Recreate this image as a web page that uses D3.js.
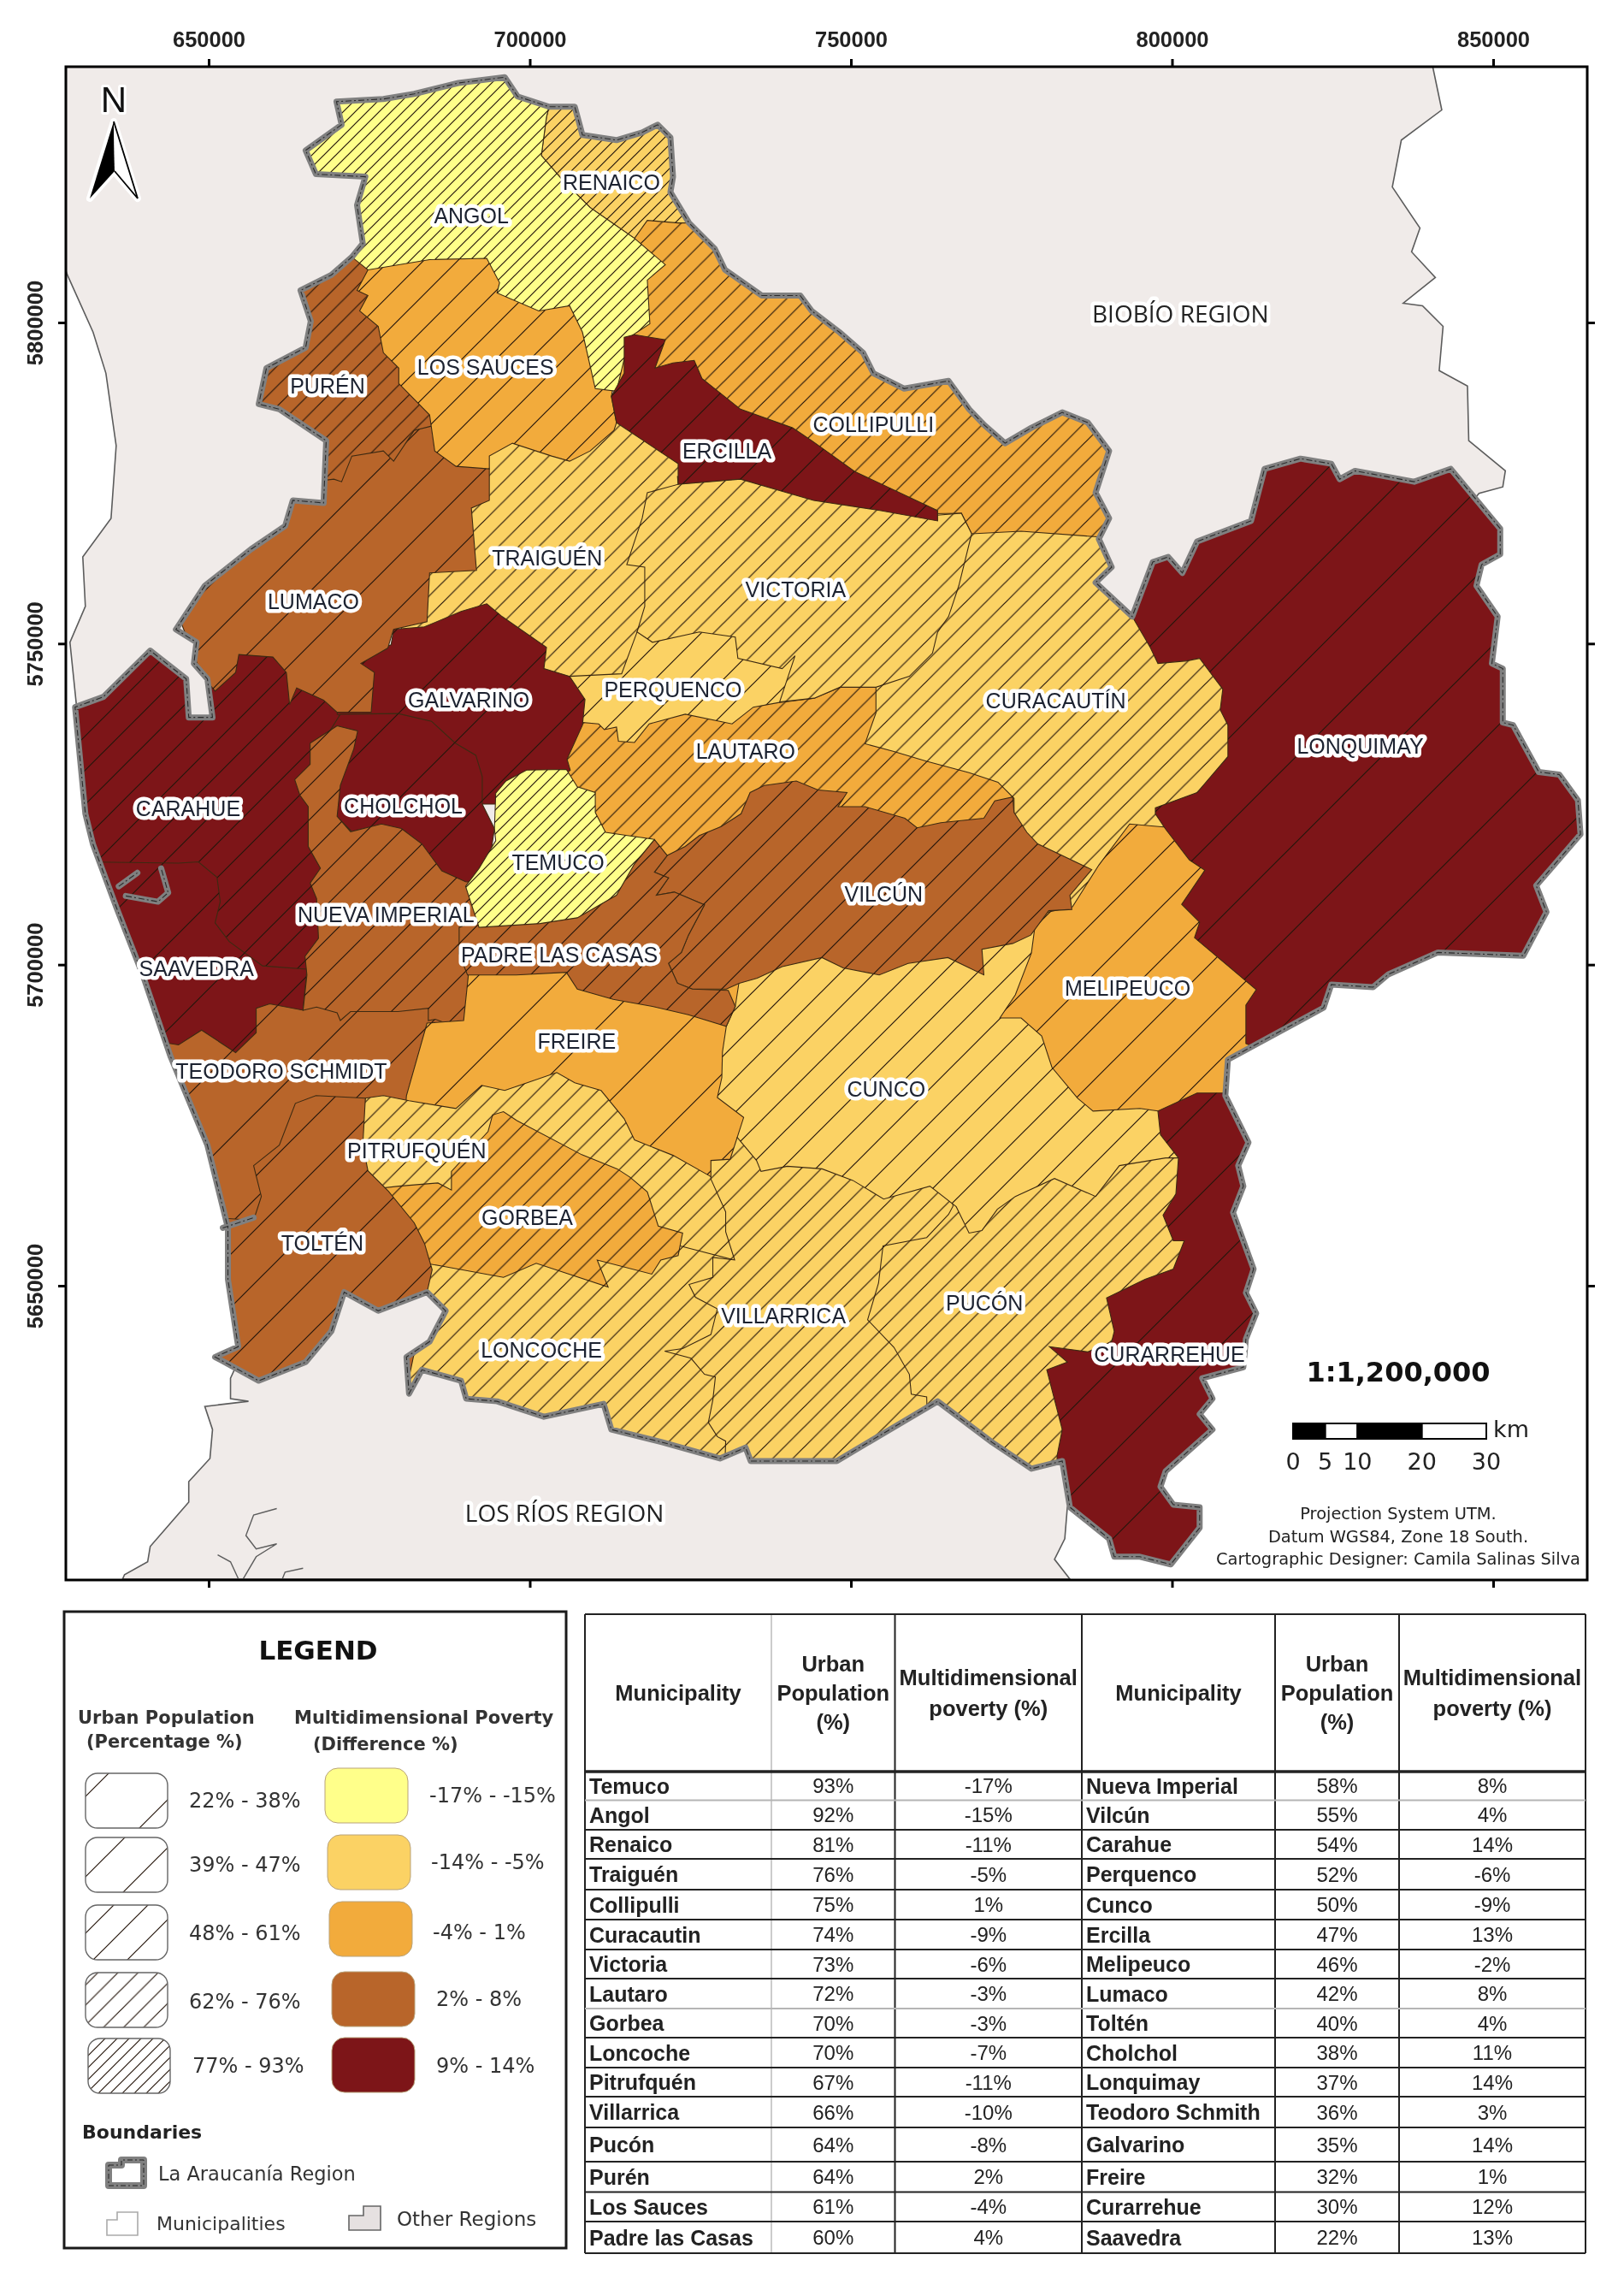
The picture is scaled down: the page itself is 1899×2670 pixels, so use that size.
<!DOCTYPE html>
<html><head><meta charset="utf-8">
<script src="https://cdn.jsdelivr.net/npm/d3@7"></script>
<style>html,body{margin:0;background:#fff}svg{display:block;filter:blur(0.5px)}</style>
</head><body><svg id="c" width="1899" height="2670"></svg>
<script>
// ---------- table data ----------
const namesLeft=["Temuco","Angol","Renaico","Traiguén","Collipulli","Curacautin","Victoria","Lautaro","Gorbea","Loncoche","Pitrufquén","Villarrica","Pucón","Purén","Los Sauces","Padre las Casas"];
const urbanLeft=[93,92,81,76,75,74,73,72,70,70,67,66,64,64,61,60];
const povertyLeft=[-17,-15,-11,-5,1,-9,-6,-3,-3,-7,-11,-10,-8,2,-4,4];
const namesRight=["Nueva Imperial","Vilcún","Carahue","Perquenco","Cunco","Ercilla","Melipeuco","Lumaco","Toltén","Cholchol","Lonquimay","Teodoro Schmith","Galvarino","Freire","Curarrehue","Saavedra"];
const urbanRight=[58,55,54,52,50,47,46,42,40,38,37,36,35,32,30,22];
const povertyRight=[8,4,14,-6,-9,13,-2,8,4,11,14,3,14,1,12,13];
// ---------- axis + legend data ----------
const xTicks=[650000,700000,750000,800000,850000];
const yTicks=[5800000,5750000,5700000,5650000];
const urbanClassLabels=["22% - 38%","39% - 47%","48% - 61%","62% - 76%","77% - 93%"];
const povertyClassLabels=["-17% - -15%","-14% - -5%","-4% - 1%","2% - 8%","9% - 14%"];
const urbanBreaks=[39,48,62,77];
const povertyBreaks=[-14,-4,2,9];
const scaleBarKm=[0,5,10,20,30];
// ---------- map geometry: UTM zone 18S, easting / northing in km ----------
const regionRing=[[665.1,5826.8],[670.7,5830.8],[669.9,5834.4],[677.2,5834.8],[682,5835.6],[688.9,5837.3],[696.1,5838.2],[698.1,5835.2],[703,5833.6],[707,5833.6],[708.2,5829.2],[713.5,5828.4],[717.5,5829.6],[719.9,5830.8],[721.9,5828.8],[722.3,5822.7],[721.9,5820.3],[724.8,5815.5],[728.8,5811.5],[730.4,5808.2],[736.1,5804.2],[742.1,5804.2],[743.9,5801.8],[748.2,5798.5],[751.9,5795.3],[753.5,5792.1],[758.3,5789.7],[765.2,5790.9],[768.4,5786.5],[770.8,5784],[774,5781.2],[778.1,5783.6],[782.9,5786],[786.9,5784.4],[790.2,5780],[788.1,5773.5],[790.2,5769.5],[788.6,5766.3],[790.6,5761.9],[788.1,5759.5],[793.8,5754.2],[797,5762.7],[799.4,5763.5],[801.6,5761],[803.9,5765.9],[812.3,5769.1],[814.4,5777.2],[820,5778.8],[824.8,5778],[826.1,5775.6],[828.5,5776.9],[837.7,5775.2],[843.4,5777.2],[851.1,5767.9],[851.1,5763.9],[848.2,5762.3],[847.4,5759],[850.7,5754.2],[849.8,5746.9],[851.5,5746.1],[851.5,5737.7],[853.1,5737.3],[857.1,5730],[860.3,5729.6],[863.2,5725.6],[863.6,5720.3],[856.7,5712.3],[858.3,5708.2],[854.7,5701.4],[841.4,5701.9],[833.7,5698.5],[831.3,5696.5],[824.8,5696.9],[823.6,5693.3],[808.7,5685.2],[808.3,5679.6],[811.9,5672.3],[810.3,5668.7],[811.1,5665.5],[809.5,5661.4],[812.7,5652.6],[811.5,5648.9],[813.1,5645.7],[811.5,5641.7],[811.1,5637.3],[804.7,5635.6],[806.3,5632.4],[804.3,5630],[806.3,5627.6],[799,5621.1],[798.2,5618.7],[800.2,5615.9],[804.3,5615.5],[804.3,5612.3],[799.8,5606.6],[795,5607.8],[791,5607.8],[790.2,5610.6],[784.1,5615.5],[782.9,5622.7],[778.1,5621.5],[772,5625.6],[763.5,5632],[754.7,5626.8],[747.8,5622.7],[734.4,5622.7],[733.6,5624.8],[729.6,5623.1],[720.7,5625.6],[712.7,5627.6],[711.5,5631.6],[702.2,5629.6],[694.9,5632],[690.1,5632.4],[689.3,5635.2],[683.2,5636.9],[681.2,5633.2],[680.8,5638.9],[684.4,5641.3],[686.9,5646.1],[684,5649],[676.4,5646.1],[671.1,5649],[669.1,5642.9],[665.1,5638.1],[657.8,5635.2],[651,5638.9],[654.6,5640.5],[653,5651],[653,5659],[649.8,5671.9],[644.1,5685.6],[639.7,5698.5],[635.6,5709],[632,5718.7],[630.8,5723.5],[629.2,5740.1],[633.6,5741.7],[640.9,5748.9],[646.5,5744.5],[646.9,5738.5],[650.6,5738.5],[649.8,5744.5],[647.7,5746.9],[648.1,5750.2],[644.9,5752.2],[649.4,5759],[656.6,5764.7],[661.9,5768.3],[663.1,5772.3],[667.9,5771.9],[668.3,5781.6],[661,5786.5],[657.8,5787.3],[659,5792.9],[665.1,5796.1],[665.9,5800.2],[664.3,5805],[669.1,5807.4],[672.3,5810.2],[674,5812.3],[673.1,5818.3],[674.4,5822.7],[666.7,5823.1]];
const biobioRing=[[627.8,5839.8],[840.6,5839.8],[842,5833.1],[835.7,5828.4],[834.3,5821.1],[838.6,5814.7],[837.3,5811],[841,5807],[836,5803],[839,5802.6],[842.2,5799.4],[841.6,5792.5],[846,5790.1],[846.2,5781.6],[851.9,5776.9],[851.5,5774.4],[847.8,5773.4],[845,5770],[800,5750],[700,5700],[640,5730],[629.4,5740.5],[628.4,5750.2],[630.8,5755.8],[630.4,5763.5],[634.8,5769.5],[635.6,5780.8],[634,5792.1],[632,5798.5],[628,5807.4],[627.8,5808]];
const losRiosRing=[[653.4,5635.6],[653.4,5632.4],[656.2,5632],[649.4,5631.2],[650.6,5627.6],[650.2,5623.1],[646.9,5619.5],[646.9,5616.3],[640.9,5609.4],[640.5,5607],[636.9,5605],[636.6,5604.3],[784.1,5604.3],[781.7,5607.4],[783.3,5610.6],[783.7,5615.5],[790,5625],[700,5650],[660,5650]];
const inletLines=[[[660.6,5615.3],[657,5614.3],[655.8,5611.1],[657.4,5609],[660.6,5609.8],[657.4,5607.8],[655.4,5604.4]],[[651.4,5608.1],[653.4,5607],[654.6,5604.4]],[[664.7,5606],[661.9,5605.4],[661.5,5604.4]]];
const regionInlets=[[[636,5712.2],[638.9,5714.3]],[[637.1,5710.7],[642.1,5709.8],[643.7,5711.2],[642.6,5715]],[[652.2,5659],[657,5660.6]]];

const puconRing=[[750,5672],[815,5672],[815,5618],[750,5618]];
const loncocheRing=[[670,5655],[735,5660],[735,5610],[670,5610]];
const collipulliRing=[[712,5820],[800,5820],[800,5760],[770,5760],[740,5775],[712,5790]];
const curacautinRing=[[767.2,5770.3],[768.8,5767.1],[776.5,5767.5],[787.3,5766.7],[815,5765],[815,5730],[785,5705],[730,5720],[730,5745],[745,5770]];
const traiguenRing=[[680,5785],[724,5785],[724,5765],[718,5745],[705,5744],[680,5750]];
const perquencoRing=[[717.9,5755],[716.7,5751.8],[714.3,5745.3],[706.2,5744.9],[704,5738],[708,5730],[745,5730],[745,5755]];
const lautaroRing=[[710.7,5737.5],[711.6,5736.6],[713.5,5737],[713.8,5734.8],[716.3,5734.6],[718.6,5737.5],[724.2,5739],[731.5,5737.5],[734.8,5740.1],[738.7,5740.8],[744.3,5741.5],[748.3,5743.2],[753.9,5743.2],[753.9,5739.2],[752.2,5734.4],[756.7,5733.2],[761.7,5731.7],[768.4,5729.9],[772.9,5728.4],[775.4,5725.9],[775.4,5723.7],[760,5715],[715,5715],[700,5728],[705,5738]];
const victoriaRing=[[723,5776],[750,5775],[763.5,5770],[767.2,5770.3],[768.8,5767.1],[766.8,5759],[765.2,5754.2],[763.5,5751.8],[762.7,5748.5],[759.1,5744.9],[753.9,5743.2],[748.3,5743.2],[744.3,5741.5],[738.9,5740.9],[741.3,5748.1],[739.3,5746.1],[732.4,5747.7],[732,5751],[726.4,5751.8],[719.1,5750.2],[716.7,5751.8],[717.9,5755.8],[717.9,5761.9],[715.1,5762.3],[717.5,5769.5],[718.3,5773.5],[723.1,5774.8]];
const schmidtRing=[[635,5700],[690,5700],[690,5670],[660,5650],[640,5650]];
const carahueRing=[[620,5745],[670,5755],[672,5738],[672,5699],[620,5699]];
const saavedraRing=[[630,5716],[645.3,5715.8],[648.4,5716],[651.3,5713.6],[651.8,5709.8],[651,5706.5],[653.2,5703.6],[658.4,5699.8],[665.3,5699.3],[664.7,5692.9],[659.5,5693.9],[657.4,5693.2],[657.4,5689.4],[654.2,5686.3],[648.9,5689.8],[645.3,5687.5],[630,5690]];
const galvarinoRing=[[670,5739],[672,5748],[678.4,5749.8],[678.8,5752.2],[683.6,5752.6],[689.3,5755],[693.3,5756.2],[695.7,5754.2],[702.6,5749.4],[702.2,5746.1],[706.2,5744.9],[708.6,5741.3],[708.2,5737.3],[705.8,5732],[706.3,5730.3],[700,5725],[690,5725],[680,5735]];
const cholcholRing=[[670.5,5739],[679.5,5739.1],[684.7,5737.9],[688.4,5734.5],[691.6,5732.6],[692.6,5729.3],[692.6,5725],[694.5,5721.2],[693,5711],[682,5711],[668,5725],[668,5735]];
const lumacoRing=[[640,5790],[680,5790],[693.7,5777.2],[693.7,5772.3],[690.9,5771.1],[691.7,5761.4],[684.4,5761],[684,5753.4],[678.8,5752.2],[678.4,5751],[677.9,5749.3],[673.7,5746.9],[675.8,5745.5],[675.3,5739.3],[670,5739.3],[667.9,5741.2],[663.7,5743.1],[662.6,5740.5],[662.1,5745.5],[660,5747.9],[654.7,5748.3],[654.2,5745.5],[651,5742.6],[649,5745],[645,5755]];
const purenRing=[[640,5815],[690,5815],[690,5784],[685.2,5784],[682,5783.2],[678.8,5778.4],[677.2,5780],[672.3,5779.2],[670.7,5775.2],[669.5,5775.6],[640,5772]];
const lossaucesRing=[[674.8,5808.2],[673.1,5805],[674.8,5804.2],[673.5,5801.8],[676.4,5799.4],[677.2,5795.3],[679.6,5792.9],[679.6,5790.5],[684.4,5785.6],[685.2,5780],[688.5,5777.6],[693.7,5777.2],[693.7,5779.2],[697.3,5781.2],[703.4,5779.2],[706.2,5778.4],[709.4,5780],[713.1,5783.2],[713.5,5784.4],[712.7,5788.5],[715,5800],[700,5815],[675,5815]];
const renaicoRing=[[703,5840],[730,5840],[730,5815.5],[723.1,5815.5],[718.3,5815.9],[716.3,5813.1],[709.4,5817.9],[705,5822.3],[701.8,5826],[702.6,5832],[703,5833.6]];
const angolRing=[[660,5840],[703,5840],[703,5833.6],[702.6,5832],[701.8,5826],[705,5822.3],[709.4,5817.9],[716.3,5813.1],[721.1,5809],[718.3,5806.6],[718.7,5799.8],[715.5,5797.7],[713.5,5789.3],[710.2,5789.7],[708.2,5798.5],[706.2,5802.6],[701.4,5801.8],[694.9,5804.6],[695.3,5806.2],[693.3,5810],[684.4,5809.8],[679.6,5809],[674.8,5808.2],[672.3,5810.2],[660,5811]];
const ercillaRing=[[714.7,5797.7],[716.3,5798.1],[721.1,5797.3],[719.5,5792.9],[722.3,5793.7],[725.6,5794.1],[726.8,5791.3],[732.8,5786.5],[740.9,5783.6],[743.9,5781.6],[750.6,5776.8],[763.5,5770.7],[763.5,5769.1],[754.7,5770.7],[744.2,5772.3],[732.8,5775.6],[723.1,5774.8],[723.1,5778],[718.3,5781.2],[713.5,5784.4],[712.7,5788.5],[714.7,5792.1]];
const imperialRing=[[670,5737.2],[673.2,5736.4],[672.6,5733.6],[670.5,5727.9],[670,5723.1],[672.1,5720.7],[676.9,5721.9],[680,5721.2],[683.2,5718.8],[686.3,5714.6],[690,5712.9],[700,5712],[700,5695],[692,5689],[685.3,5691.5],[684.2,5691.3],[684.2,5693.2],[679.5,5692.7],[672.1,5692.7],[670.5,5691.3],[670,5692.5],[666.8,5693.4],[664.7,5692.9],[665.3,5698.4],[665,5701.3],[667.1,5704.1],[666.8,5710.3],[665.8,5712.7],[667.4,5715],[665.5,5718.4],[665.5,5724.6],[664.2,5726.4],[663.4,5728.8],[665.8,5731.2],[665.8,5734.5]];
const freireRing=[[690.5,5699],[689.7,5691.3],[684,5690.9],[680.8,5679.6],[680,5670],[735,5665],[735,5700]];
const pitrufquenRing=[[674.4,5679.2],[677.2,5679.6],[681.2,5678.8],[688.5,5677.6],[692.5,5681.2],[696.1,5680.4],[704.2,5683.2],[707,5681.6],[711.1,5680.4],[714.7,5676],[716.3,5672.7],[722.3,5670.3],[728,5667.1],[735,5662],[731.9,5654],[723.4,5656.2],[700,5660],[680,5660],[672,5665]];
const villarricaRing=[[728.2,5666.6],[730.5,5661.5],[730.5,5658.4],[731.9,5654],[728.5,5654.4],[728.5,5651.3],[724.8,5650.2],[725.8,5648.2],[729.2,5646.4],[728.2,5642.4],[723.8,5640.2],[721,5639.8],[725.1,5638.7],[727.2,5636.2],[728.9,5635.8],[728.5,5632.2],[727.8,5628.7],[729.2,5626.5],[730.5,5625.8],[730,5610],[765,5610],[762,5625],[761.8,5632.7],[759.4,5633.1],[759.1,5636.2],[756.7,5640.4],[752.6,5644.7],[754.3,5650.4],[755,5656.2],[761.8,5657.5],[765.2,5661.1],[765.9,5662.4],[765,5668],[745,5672],[732.3,5673.1],[731.2,5669.7],[728.2,5669.5]];
const cuncoRing=[[733,5700],[782,5712],[790,5695],[800,5680],[801,5669.9],[799,5669.9],[791.8,5668.7],[788.1,5663.9],[781.7,5666.7],[775.6,5663.9],[772.8,5661.9],[770.4,5658.6],[768.4,5658.2],[766.4,5662.3],[762.3,5665.5],[755.1,5663.5],[750.3,5666.4],[745.5,5668.2],[740.1,5668.6],[736,5667.8],[735.3,5669.5],[732.3,5673.1],[733.3,5676.2],[729.2,5679.3],[729.9,5682.4],[730,5686.4],[730.6,5690.4],[732,5693.5]];
const melipeucoRing=[[793.4,5721.9],[788.6,5715.5],[784.5,5709],[778.9,5707.8],[778.1,5701.8],[775.6,5695.3],[773.2,5691.7],[776.5,5691.7],[779.7,5688.9],[781.3,5684],[785.3,5679.2],[787.7,5677.2],[795,5677.6],[797.8,5677.2],[815,5677],[815,5720]];
const lonquimayRing=[[793.8,5754.2],[796.6,5749.4],[797.8,5746.9],[802.3,5747.3],[804.3,5747.7],[807.9,5742.9],[807.5,5739.7],[808.7,5737.3],[808.7,5732.4],[803.9,5726.8],[797.4,5724.4],[797.4,5723.5],[799,5721.1],[802.7,5716.3],[805.1,5714.7],[801.5,5709.4],[804.3,5706.6],[803.5,5704.2],[813.1,5696.1],[811.5,5693.7],[811.5,5687.7],[830,5680],[880,5680],[880,5780],[793.8,5780]];
const curarrehueRing=[[807.9,5680],[803.9,5680],[797.8,5677.2],[798.2,5673.5],[801,5669.9],[800.6,5664.3],[798.6,5661],[800.2,5657],[801.9,5657],[800.2,5652.6],[795.8,5651],[789.8,5648.1],[791,5642.9],[790.6,5641.3],[786.9,5639.7],[780.9,5640.5],[783.7,5638.1],[780.5,5636.9],[782.9,5627.6],[782.1,5623.5],[782,5610],[790,5600],[830,5600],[830,5680]];
const vilcunRing=[[719.4,5714.4],[721.4,5717],[724.2,5718.4],[726.4,5720.1],[729.8,5721.5],[732.9,5723.5],[734.3,5726.8],[736.5,5727.9],[741.5,5728.6],[744.9,5727.2],[749.4,5726.8],[748,5724.6],[752.2,5724.6],[758.4,5722.8],[760.3,5721.3],[764,5722.1],[770.7,5722.8],[772.4,5725.5],[775.2,5726.1],[775.4,5723.7],[777.4,5720.6],[779.1,5718.8],[787.5,5714.8],[784.1,5710.8],[784.4,5708.6],[780.8,5708.4],[778,5704.6],[775.2,5703.3],[770.4,5702.4],[770.7,5698.4],[765.1,5701.1],[758.9,5700.2],[754.4,5698.4],[748.8,5699.5],[745.5,5701.1],[739.3,5699.7],[735.4,5697.9],[732.6,5697.1],[730.6,5696.2],[725.3,5696.2],[723,5697.1],[721.6,5700.2],[723.6,5701.9],[724.7,5704.6],[727.2,5709.3],[722.5,5711.3],[719.7,5710.8],[721.6,5713.5]];
const padreRing=[[689,5705.8],[705,5712],[716.3,5715.7],[719.4,5719.5],[721.4,5717],[719.4,5714.4],[721.6,5713.5],[719.7,5710.8],[722.5,5711.3],[727.2,5709.3],[724.7,5704.6],[723.6,5701.9],[721.6,5700.2],[723,5697.1],[725.3,5696.2],[730.9,5696],[732,5693.5],[730.6,5690.4],[724.7,5692.2],[719.1,5693.5],[716.3,5694],[713,5694.6],[707.4,5696.2],[705.7,5698.8],[697.9,5698.4],[690.3,5698.4],[689,5701.7]];
const gorbeaRing=[[693.5,5674],[694.2,5676.6],[695.9,5677.1],[698,5675.7],[708.1,5670.4],[713.6,5668.2],[715.6,5666.9],[718.3,5664.6],[720,5659.3],[723.8,5658.2],[723.4,5656.2],[723.1,5654.7],[720.4,5654],[719,5651.8],[710.5,5654],[712.2,5649.8],[701,5653.5],[695.9,5651.3],[686.1,5653.1],[675,5655],[675,5665],[679.6,5665.5],[685.7,5666],[687.8,5664.9],[687.8,5667.8]];
const toltenRing=[[674.4,5679.2],[674,5671.9],[674.8,5667.9],[678,5664.7],[682,5659.8],[683.6,5656.6],[684.8,5652.5],[684,5649],[680,5630],[645,5630],[645,5661],[657,5660.2],[658.2,5663.9],[657,5668.7],[661,5671.9],[663.5,5678.4],[666.7,5679.6]];
const temucoRing=[[694.7,5726.7],[696.3,5728.6],[699.5,5730.3],[705.7,5730.4],[707.4,5727.7],[710.2,5726.8],[710.2,5723.7],[711.8,5720.6],[715.2,5720.1],[719.4,5719.5],[716.3,5715.7],[713.5,5710.8],[707.4,5707.3],[701.6,5706.4],[692.1,5705.8],[690,5712.2],[692.1,5715],[694.7,5719.3],[694.5,5721.2]];
// painting order: later municipalities lie over the edges of earlier ones
const paintNames=["Pucón","Loncoche","Collipulli","Curacautin","Traiguén","Perquenco","Lautaro","Victoria","Teodoro Schmith","Carahue","Saavedra","Galvarino","Cholchol","Lumaco","Purén","Los Sauces","Renaico","Angol","Ercilla","Nueva Imperial","Freire","Pitrufquén","Villarrica","Cunco","Melipeuco","Lonquimay","Curarrehue","Vilcún","Padre las Casas","Gorbea","Toltén","Temuco"];
const paintRings=[puconRing,loncocheRing,collipulliRing,curacautinRing,traiguenRing,perquencoRing,lautaroRing,victoriaRing,schmidtRing,carahueRing,saavedraRing,galvarinoRing,cholcholRing,lumacoRing,purenRing,lossaucesRing,renaicoRing,angolRing,ercillaRing,imperialRing,freireRing,pitrufquenRing,villarricaRing,cuncoRing,melipeucoRing,lonquimayRing,curarrehueRing,vilcunRing,padreRing,gorbeaRing,toltenRing,temucoRing];
// ---------- map labels ----------
const labelNames=["ANGOL","RENAICO","PURÉN","LOS SAUCES","ERCILLA","COLLIPULLI","LUMACO","TRAIGUÉN","VICTORIA","GALVARINO","PERQUENCO","LAUTARO","CURACAUTÍN","LONQUIMAY","CARAHUE","CHOLCHOL","TEMUCO","VILCÚN","NUEVA IMPERIAL","PADRE LAS CASAS","SAAVEDRA","MELIPEUCO","FREIRE","TEODORO SCHMIDT","CUNCO","PITRUFQUÉN","GORBEA","TOLTÉN","PUCÓN","VILLARRICA","LONCOCHE","CURARREHUE"];
const labelEast=[690.9,712.7,668.5,693.1,730.7,753.5,666.3,702.7,741.4,690.5,722.3,733.6,781.9,829.3,646.8,680.3,704.4,755.1,677.6,704.6,648.1,793.1,707.3,661.3,755.5,682.4,699.6,667.7,770.8,739.5,701.8,799.6];
const labelNorth=[5816.7,5821.9,5790.2,5793.1,5780,5784.2,5756.6,5763.3,5758.4,5741.3,5742.9,5733.2,5741.1,5734,5724.3,5724.8,5716,5711,5707.8,5701.5,5699.4,5696.3,5688.1,5683.4,5680.6,5671.1,5660.6,5656.6,5647.3,5645.3,5640,5639.4];
const regionNames=["BIOBÍO REGION","LOS RÍOS REGION"];
const regionEast=[801.3,705.4];
const regionNorth=[5801.4,5614.7];

// ---------- styles ----------
const povertyColors=["#ffff8a","#fbd264","#f2ab3c","#b8652a","#7d1518"];
const hatchSpacing=[100,62,40,23.5,14];
const OTHER="#f0ebe9";
const SANS="'Liberation Sans',Arial,sans-serif", WIDE="'DejaVu Sans',Verdana,sans-serif";

const svg=d3.select("#c");
const X=d3.scaleLinear().domain([650000,850000]).range([244,1746]);
const Y=d3.scaleLinear().domain([5800000,5650000]).range([377,1503]);
const frame={l:77,t:78,r:1856,b:1847};
const project=d=>[X(d[0]*1000),Y(d[1]*1000)];
const ring=d3.line().x(d=>project(d)[0]).y(d=>project(d)[1]).curve(d3.curveLinearClosed);
const open=d3.line().x(d=>project(d)[0]).y(d=>project(d)[1]);
const colorClass=d3.scaleThreshold().domain(povertyBreaks).range([0,1,2,3,4]);
const hatchClass=d3.scaleThreshold().domain(urbanBreaks).range([0,1,2,3,4]);

const defs=svg.append("defs");
hatchSpacing.forEach((s,i)=>{
  const p=defs.append("pattern").attr("id","h"+i).attr("patternUnits","userSpaceOnUse").attr("width",s).attr("height",s);
  p.append("path").attr("d",`M${-s},${s} L${s},${-s} M0,${s} L${s},0 M0,${2*s} L${2*s},0`).attr("stroke","#24140a").attr("stroke-width",1.2).attr("fill","none");
});
defs.append("clipPath").attr("id","frameClip").append("rect").attr("x",frame.l).attr("y",frame.t).attr("width",frame.r-frame.l).attr("height",frame.b-frame.t);
defs.append("clipPath").attr("id","regionClip").append("path").attr("d",ring(regionRing));

// ---- map ----
const map=svg.append("g").attr("clip-path","url(#frameClip)");
map.selectAll("path.other").data([biobioRing,losRiosRing]).join("path").attr("class","other").attr("d",ring).attr("fill",OTHER).attr("stroke","#5c5c5c").attr("stroke-width",1.6);
map.selectAll("path.inlet").data(inletLines).join("path").attr("class","inlet").attr("d",open).attr("fill","none").attr("stroke","#5c5c5c").attr("stroke-width",1.4);

const lookup=new Map();
namesLeft.forEach((n,i)=>lookup.set(n,{u:urbanLeft[i],p:povertyLeft[i]}));
namesRight.forEach((n,i)=>lookup.set(n,{u:urbanRight[i],p:povertyRight[i]}));
const munis=paintNames.map((n,i)=>({name:n,ring:paintRings[i],...lookup.get(n)}));

const mg=map.append("g").attr("clip-path","url(#regionClip)");
const mu=mg.selectAll("g").data(munis).join("g");
mu.append("path").attr("d",d=>ring(d.ring)).attr("fill",d=>povertyColors[colorClass(d.p)]).attr("stroke","#3d2a12").attr("stroke-width",1.1);
mu.append("path").attr("d",d=>ring(d.ring)).attr("fill",d=>`url(#h${hatchClass(d.u)})`);

map.append("path").attr("d",ring(regionRing)).attr("fill","none").attr("stroke","#808080").attr("stroke-width",7).attr("stroke-linejoin","round");
map.selectAll("path.ri").data(regionInlets).join("path").attr("class","ri").attr("d",open).attr("fill","none").attr("stroke","#808080").attr("stroke-width",7).attr("stroke-linecap","round").attr("stroke-linejoin","round");
map.append("path").attr("d",ring(regionRing)).attr("fill","none").attr("stroke","#2b2b2b").attr("stroke-width",1.1).attr("stroke-dasharray","7 3 2 3");
map.selectAll("path.ri2").data(regionInlets).join("path").attr("class","ri2").attr("d",open).attr("fill","none").attr("stroke","#2b2b2b").attr("stroke-width",1.1).attr("stroke-dasharray","7 3 2 3");

// map labels
const halo=(s,w)=>s.attr("stroke","#fff").attr("stroke-width",w).attr("stroke-linejoin","round").attr("paint-order","stroke");
svg.append("g").selectAll("text").data(labelNames).join("text")
  .attr("x",(d,i)=>project([labelEast[i],0])[0]).attr("y",(d,i)=>project([0,labelNorth[i]])[1])
  .attr("text-anchor","middle").attr("dominant-baseline","central")
  .attr("font-family",SANS).attr("font-size",25).attr("fill","#1c2230").text(d=>d).call(halo,9);
svg.append("g").selectAll("text").data(regionNames).join("text")
  .attr("x",(d,i)=>project([regionEast[i],0])[0]).attr("y",(d,i)=>project([0,regionNorth[i]])[1])
  .attr("text-anchor","middle").attr("dominant-baseline","central")
  .attr("font-family","'Open Sans',sans-serif").attr("font-size",28).attr("fill","#222").text(d=>d).call(halo,9);

// frame + axes
svg.append("rect").attr("x",frame.l).attr("y",frame.t).attr("width",frame.r-frame.l).attr("height",frame.b-frame.t).attr("fill","none").attr("stroke","#000").attr("stroke-width",3);
function styleAxis(g){
  g.select(".domain").remove();
  g.selectAll(".tick line").attr("stroke","#000").attr("stroke-width",3);
  g.selectAll(".tick text").attr("font-family",SANS).attr("font-weight","bold").attr("font-size",25.5).attr("fill","#222");
}
const fmt=d3.format("d");
svg.append("g").attr("transform",`translate(0,${frame.t})`).call(d3.axisTop(X).tickValues(xTicks).tickFormat(fmt).tickSize(9).tickPadding(14)).call(styleAxis);
svg.append("g").attr("transform",`translate(0,${frame.b})`).call(d3.axisBottom(X).tickValues(xTicks).tickFormat("").tickSize(9)).call(styleAxis);
svg.append("g").attr("transform",`translate(${frame.l},0)`).call(d3.axisLeft(Y).tickValues(yTicks).tickFormat(fmt).tickSize(9)).call(styleAxis)
  .selectAll(".tick text").attr("transform","translate(-36,0) rotate(-90)").attr("x",0).attr("y",0).attr("dy","0").attr("text-anchor","middle").attr("dominant-baseline","central");
svg.append("g").attr("transform",`translate(${frame.r},0)`).call(d3.axisRight(Y).tickValues(yTicks).tickFormat("").tickSize(9)).call(styleAxis);

// north arrow
const na=svg.append("g").attr("transform","translate(133,142)");
na.append("path").attr("d","M0,0 L-28,90 L0,58 L28,90 Z").attr("fill","#fff").attr("stroke","#fff").attr("stroke-width",8).attr("stroke-linejoin","round");
na.append("path").attr("d","M0,0 L-28,90 L1,58 Z").attr("fill","#000");
na.append("path").attr("d","M0,0 L28,90 L1,58").attr("fill","#fff").attr("stroke","#000").attr("stroke-width",1.8);
svg.append("text").attr("x",133).attr("y",131).attr("text-anchor","middle").attr("font-family",SANS).attr("font-size",42).attr("fill","#111").text("N").call(halo,6);

// scale statement + bar
svg.append("text").attr("x",1635).attr("y",1615).attr("text-anchor","middle").attr("font-family",WIDE).attr("font-weight","bold").attr("font-size",32).attr("fill","#111").text("1:1,200,000");
const barX=d3.scaleLinear().domain([0,30]).range([1512,1738]);
const segs=d3.pairs(scaleBarKm);
svg.append("g").selectAll("rect").data(segs).join("rect").attr("x",d=>barX(d[0])).attr("y",1664).attr("width",d=>barX(d[1])-barX(d[0])).attr("height",18)
  .attr("fill",(d,i)=>i%2?"#fff":"#000").attr("stroke","#000").attr("stroke-width",2);
svg.append("g").selectAll("text").data(scaleBarKm).join("text").attr("x",d=>barX(d)).attr("y",1718).attr("text-anchor","middle").attr("font-family",WIDE).attr("font-size",27).attr("fill","#222").text(d=>d);
svg.append("text").attr("x",1746).attr("y",1680).attr("font-family",WIDE).attr("font-size",27).attr("fill","#222").text("km");
const creditLines=["Projection System UTM.","Datum WGS84, Zone 18 South.","Cartographic Designer: Camila Salinas Silva"];
svg.append("g").selectAll("text").data(creditLines).join("text").attr("x",1635).attr("y",(d,i)=>1776+i*26.5).attr("text-anchor","middle").attr("font-family",WIDE).attr("font-size",19.4).attr("fill","#222").text(d=>d);

// ---- legend ----
const lg=svg.append("g");
lg.append("rect").attr("x",75).attr("y",1884).attr("width",587).attr("height",744).attr("fill","#fff").attr("stroke","#1a1a1a").attr("stroke-width",3);
const lt=(x,y,t,opts={})=>lg.append("text").attr("x",x).attr("y",y).attr("dominant-baseline","central").attr("font-family",WIDE).attr("font-size",opts.size||21).attr("font-weight",opts.bold?"bold":"normal").attr("text-anchor",opts.anchor||"start").attr("fill",opts.fill||"#333").text(t);
lt(372,1929,"LEGEND",{size:31,bold:true,anchor:"middle",fill:"#111"});
lt(91,2008,"Urban Population",{size:21,bold:true});
lt(101,2036,"(Percentage %)",{size:21,bold:true});
lt(344,2008,"Multidimensional Poverty",{size:21,bold:true});
lt(366,2039,"(Difference %)",{size:21,bold:true});
const hatchRows=[[100,2105],[100,2180],[100,2259],[100,2338],[103,2415]];
const colorRows=[[380,2099],[383,2177],[385,2255],[388,2337],[388,2414]];
const urbanLabelX=[221,221,221,221,225], urbanLabelY=[2105,2180,2260,2340,2415];
const povLabelX=[502,504,506,510,510], povLabelY=[2099,2177,2259,2337,2415];
urbanClassLabels.forEach((t,i)=>{
  const [x,y]=hatchRows[i];
  lg.append("rect").attr("x",x).attr("y",y-32).attr("width",96).attr("height",64).attr("rx",14).attr("fill","#fff");
  lg.append("rect").attr("x",x).attr("y",y-32).attr("width",96).attr("height",64).attr("rx",14).attr("fill",`url(#h${i})`).attr("stroke","#666").attr("stroke-width",1.4);
  lt(urbanLabelX[i],urbanLabelY[i],t,{size:24});
});
povertyClassLabels.forEach((t,i)=>{
  const [x,y]=colorRows[i];
  lg.append("rect").attr("x",x).attr("y",y-32).attr("width",97).attr("height",64).attr("rx",15).attr("fill",povertyColors[i]).attr("stroke","#b9a37a").attr("stroke-width",1);
  lt(povLabelX[i],povLabelY[i],t,{size:24});
});
lt(96,2492,"Boundaries",{size:22,bold:true,fill:"#222"});
lg.append("path").attr("d","M127,2531 L142,2531 L142,2525 L168,2525 L168,2555 L127,2555 Z").attr("fill","#fff").attr("stroke","#808080").attr("stroke-width",8).attr("stroke-linejoin","round");
lg.append("path").attr("d","M127,2531 L142,2531 L142,2525 L168,2525 L168,2555 L127,2555 Z").attr("fill","none").attr("stroke","#222").attr("stroke-width",1).attr("stroke-dasharray","6 3 2 3");
lt(185,2541,"La Araucanía Region",{size:22.5});
lg.append("path").attr("d","M125,2595 L137,2595 L137,2586 L161,2586 L161,2613 L125,2613 Z").attr("fill","#fff").attr("stroke","#aaa").attr("stroke-width",1.6);
lt(183,2599,"Municipalities",{size:22});
lg.append("path").attr("d","M408,2590 L425,2590 L425,2579 L445,2579 L445,2607 L408,2607 Z").attr("fill","#e6e1e1").attr("stroke","#666").attr("stroke-width",1.6);
lt(464,2594,"Other Regions",{size:23});

// ---- table ----
const tb=svg.append("g");
const colEdges=[684,902,1046.5,1265,1491,1636,1854];
const rowEdges=[1887,2071,2104.5,2139,2173,2209,2244,2279,2313,2348,2382,2417,2451,2487,2527,2562.5,2597,2634];
const lightRows=new Set([2,9]);
colEdges.forEach((x,i)=>tb.append("line").attr("x1",x).attr("x2",x).attr("y1",rowEdges[0]).attr("y2",rowEdges[17]).attr("stroke",i==1?"#aaa":"#222").attr("stroke-width",i==1?1.2:2));
rowEdges.forEach((y,i)=>tb.append("line").attr("x1",colEdges[0]).attr("x2",colEdges[6]).attr("y1",y).attr("y2",y).attr("stroke",lightRows.has(i)?"#b5b5b5":"#222").attr("stroke-width",i==1?3.5:2));
const tt=(x,y,t,bold,anchor,size)=>tb.append("text").attr("x",x).attr("y",y).attr("dominant-baseline","central").attr("text-anchor",anchor||"middle").attr("font-family",SANS).attr("font-weight",bold?"bold":"normal").attr("font-size",size||24).attr("fill","#222").text(t);
const pct=v=>v+"%";
[0,3].forEach(c=>{
  tt((colEdges[c]+colEdges[c+1])/2,1979,"Municipality",true,null,25.5);
  const m=(colEdges[c+1]+colEdges[c+2])/2;
  tt(m,1945,"Urban",true,null,25.5);tt(m,1979,"Population",true,null,25.5);tt(m,2013,"(%)",true,null,25.5);
  const p=(colEdges[c+2]+colEdges[c+3])/2;
  tt(p,1961,"Multidimensional",true,null,25.5);tt(p,1997,"poverty (%)",true,null,25.5);
});
const tableCols=[[namesLeft,urbanLeft,povertyLeft,0],[namesRight,urbanRight,povertyRight,3]];
tableCols.forEach(([names,urban,pov,c])=>{
  names.forEach((n,i)=>{
    const y=(rowEdges[i+1]+rowEdges[i+2])/2;
    tt(colEdges[c]+5,y,n,true,"start",25);
    tt((colEdges[c+1]+colEdges[c+2])/2,y,pct(urban[i]));
    tt((colEdges[c+2]+colEdges[c+3])/2,y,pct(pov[i]));
  });
});
</script></body></html>
